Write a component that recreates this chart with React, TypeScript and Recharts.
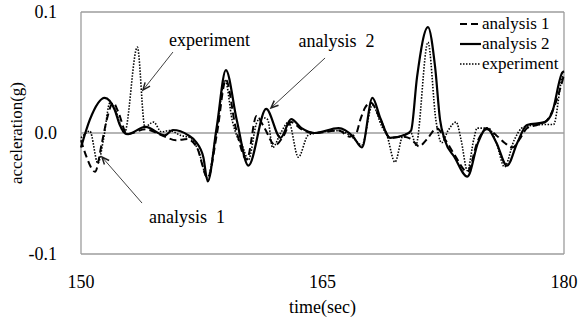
import React from "react";
import {
  LineChart,
  Line,
  XAxis,
  YAxis,
  ReferenceLine,
  ReferenceDot,
  Label,
} from "recharts";

const FONT = "Liberation Serif, Tinos, DejaVu Serif, Noto Serif, Times New Roman, Times, serif";

// analysis 1 (dashed)
const a1Time = [150.0, 150.35, 150.87, 151.3, 151.6, 152.0, 152.3, 152.86, 154.0, 155.2, 155.9, 156.6, 157.2, 157.87, 158.45, 159.0, 159.6, 160.3, 160.9, 161.4, 162.05, 162.6, 163.05, 163.7, 164.5, 166.0, 166.7, 167.1, 167.35, 167.65, 168.0, 168.6, 169.2, 170.0, 170.5, 171.0, 171.5, 172.1, 172.6, 173.2, 174.0, 174.66, 175.2, 175.8, 176.3, 176.8, 177.3, 177.7, 178.4, 178.9, 179.4, 180.0];
const a1Vals = [-0.006, -0.02, -0.032, -0.008, 0.011, 0.025, 0.018, -0.001, 0.003, -0.003, -0.006, -0.005, -0.012, -0.037, 0.0, 0.044, 0.005, -0.022, 0.014, 0.004, -0.01, -0.002, 0.009, 0.003, 0.0, 0.002, -0.003, 0.0, 0.011, 0.021, 0.025, 0.011, -0.004, -0.003, -0.005, -0.011, -0.005, 0.004, -0.005, -0.018, -0.032, -0.006, 0.003, -0.002, -0.008, -0.012, -0.004, 0.004, 0.007, 0.01, 0.022, 0.048];

// analysis 2 (solid)
const a2Time = [150.0, 150.55, 151.47, 152.1, 152.4, 152.86, 154.0, 155.2, 155.7, 156.65, 157.15, 157.6, 157.87, 158.43, 159.0, 159.67, 160.4, 161.5, 162.4, 163.05, 163.7, 164.5, 166.0, 166.9, 167.45, 168.1, 168.6, 169.2, 170.1, 170.5, 170.87, 171.55, 171.99, 172.3, 172.6, 173.2, 174.0, 174.66, 175.2, 175.8, 176.46, 177.1, 177.7, 178.8, 179.25, 179.9, 180.0];
const a2Vals = [-0.012, 0.011, 0.029, 0.019, 0.007, -0.001, 0.005, -0.002, 0.0025, -0.0017, -0.0075, -0.02, -0.04, 0.005, 0.052, 0.011, -0.027, 0.02, -0.004, 0.0115, 0.004, 0.0, 0.004, -0.003, -0.012, 0.029, 0.012, -0.004, -0.0017, 0.002, 0.046, 0.0875, 0.055, 0.011, -0.006, -0.02, -0.036, -0.008, 0.004, -0.008, -0.027, -0.008, 0.0066, 0.009, 0.0165, 0.05, 0.051];

// experiment (dotted)
const exTime = [150.0, 150.55, 151.05, 151.4, 151.8, 152.1, 152.7, 153.5, 153.97, 154.5, 155.0, 155.5, 156.2, 156.8, 157.3, 157.85, 158.4, 158.95, 159.4, 159.7, 160.0, 160.4, 160.9, 161.2, 161.6, 161.9, 162.4, 162.9, 163.5, 164.1, 164.6, 166.0, 166.9, 167.45, 168.1, 168.7, 169.0, 169.5, 170.0, 170.5, 170.8, 171.55, 172.05, 172.4, 172.8, 173.3, 173.6, 174.0, 174.4, 174.6, 175.3, 175.8, 176.3, 176.9, 177.5, 178.8, 179.35, 179.9, 180.0];
const exVals = [-0.004, 0.0015, -0.025, -0.005, 0.025, 0.02, 0.0, 0.071, 0.005, 0.009, 0.001, 0.002, -0.002, -0.004, -0.015, -0.037, 0.0, 0.044, 0.01, -0.003, -0.01, -0.022, 0.008, 0.013, 0.011, -0.012, 0.0, 0.009, -0.02, -0.002, 0.0, 0.002, -0.004, -0.01, 0.023, 0.005, -0.002, -0.024, -0.002, 0.0, -0.01, 0.075, 0.01, -0.008, 0.002, 0.009, -0.005, -0.031, -0.005, 0.004, 0.004, -0.008, -0.028, -0.006, 0.005, 0.007, 0.007, 0.046, 0.048];

const xTicks = [150, 165, 180];
const yTicks = [-0.1, 0.0, 0.1];
const xDomain = [150, 180];
const yDomain = [-0.1, 0.1];

const seriesNames = ["analysis 1", "analysis 2", "experiment"];

// annotations: text positions and arrows (data coordinates)
const annTexts = [
  { t: 157.98, v: 0.0769, text: "experiment" },
  { t: 165.87, v: 0.076, text: "analysis\u00a0 2" },
  { t: 156.58, v: -0.0694, text: "analysis\u00a0 1" },
];
const annArrows = [
  { from: { x: 155.71, y: 0.0669 }, to: { x: 153.85, y: 0.0355 } },
  { from: { x: 165.16, y: 0.062 }, to: { x: 161.8, y: 0.0207 } },
  { from: { x: 153.79, y: -0.0579 }, to: { x: 151.3, y: -0.0198 } },
];

const zip = (ts: number[], vs: number[]) => ts.map((t, i) => ({ t, v: vs[i] }));
const a1Data = zip(a1Time, a1Vals);
const a2Data = zip(a2Time, a2Vals);
const exData = zip(exTime, exVals);

const styles = [
  { dash: "7 4", width: 2 },
  { dash: undefined, width: 2.2 },
  { dash: "1.5 1.5", width: 1.6 },
];

const FRAME = "#9c9c9c";
const txtStyle = { fontFamily: FONT };

const XTick = (p: any) => (
  <text x={p.x} y={p.y + 34} textAnchor="middle" fontSize={18} style={txtStyle} fill="#000">
    {p.payload.value}
  </text>
);

const YTick = (p: any) => (
  <text x={p.x - 24} y={p.y + 6} textAnchor="end" fontSize={18} style={txtStyle} fill="#000">
    {Number(p.payload.value).toFixed(1)}
  </text>
);

const Arrow = (p: any) => {
  const { x1, y1, x2, y2 } = p;
  if ([x1, y1, x2, y2].some((n) => typeof n !== "number" || isNaN(n))) return null;
  const ang = Math.atan2(y2 - y1, x2 - x1);
  const L = 8;
  const w = 0.4;
  const ax = x2 - L * Math.cos(ang - w);
  const ay = y2 - L * Math.sin(ang - w);
  const bx = x2 - L * Math.cos(ang + w);
  const by = y2 - L * Math.sin(ang + w);
  return (
    <g>
      <line x1={x1} y1={y1} x2={x2} y2={y2} stroke="#404040" strokeWidth={1} />
      <path d={`M${ax},${ay} L${x2},${y2} L${bx},${by}`} fill="none" stroke="#202020" strokeWidth={1.5} />
    </g>
  );
};

const makeText = (text: string) => (p: any) => (
  <text x={p.cx} y={p.cy} textAnchor="middle" dominantBaseline="central" fontSize={18} fill="#000" style={{ whiteSpace: "pre", fontFamily: FONT }}>
    {text}
  </text>
);

// plain segment shape used for the plot frame and the zero line
const FrameSeg = (p: any) => {
  const { x1, y1, x2, y2 } = p;
  if ([x1, y1, x2, y2].some((n) => typeof n !== "number" || isNaN(n))) return null;
  return <line x1={x1} y1={y1} x2={x2} y2={y2} stroke={FRAME} strokeWidth={1.3} />;
};

const LegendBox = () => (
  <div style={{ position: "absolute", left: 459, top: 14, fontFamily: FONT, fontSize: 17, color: "#000", lineHeight: "20px" }}>
    {seriesNames.map((n, i) => (
      <div key={n} style={{ display: "flex", alignItems: "center", height: 20, whiteSpace: "nowrap" }}>
        <svg width={23} height={20} style={{ display: "block" }}>
          <line x1={1} y1={10} x2={22} y2={10} stroke="#000" strokeWidth={styles[i].width} strokeDasharray={styles[i].dash} />
        </svg>
        <span>{n}</span>
      </div>
    ))}
  </div>
);

const YLabel = (p: any) => {
  const vb = p.viewBox || { x: 0, y: 12, width: 81, height: 242 };
  const cy = vb.y + vb.height / 2;
  return (
    <text transform={`translate(16,${cy}) rotate(-90)`} textAnchor="middle" dominantBaseline="central" fontSize={17} fill="#000" style={txtStyle}>
      acceleration(g)
    </text>
  );
};

const frameSegs = [
  [{ x: xDomain[0], y: yDomain[1] }, { x: xDomain[1], y: yDomain[1] }],
  [{ x: xDomain[1], y: yDomain[1] }, { x: xDomain[1], y: yDomain[0] }],
  [{ x: xDomain[1], y: yDomain[0] }, { x: xDomain[0], y: yDomain[0] }],
  [{ x: xDomain[0], y: yDomain[0] }, { x: xDomain[0], y: yDomain[1] }],
  [{ x: xDomain[0], y: 0 }, { x: xDomain[1], y: 0 }],
];

export default function App() {
  return (
    <div style={{ position: "relative", width: 580, height: 322, fontFamily: FONT }}>
      <style>{`body{margin:0}`}</style>
      <LineChart width={580} height={322} margin={{ top: 12, right: 16, left: 0, bottom: 0 }}>
        <XAxis
          dataKey="t"
          type="number"
          domain={xDomain}
          ticks={xTicks}
          axisLine={false}
          tickLine={false}
          tickSize={0}
          tickMargin={0}
          height={68}
          tick={XTick}
          allowDuplicatedCategory={false}
        >
          <Label value="time(sec)" position="insideBottom" offset={9} style={{ fontSize: 18, fontFamily: FONT, fill: "#000" }} />
        </XAxis>
        <YAxis
          type="number"
          domain={yDomain}
          ticks={yTicks}
          axisLine={false}
          tickLine={false}
          tickSize={0}
          tickMargin={0}
          width={81}
          tick={YTick}
        >
          <Label content={YLabel} />
        </YAxis>
        {frameSegs.map((s, i) => (
          <ReferenceLine key={"frame" + i} segment={s} shape={FrameSeg} ifOverflow="visible" />
        ))}
        <Line data={exData} dataKey="v" name="experiment" type="monotone" stroke="#000" strokeWidth={styles[2].width} strokeDasharray={styles[2].dash} dot={false} isAnimationActive={false} />
        <Line data={a1Data} dataKey="v" name="analysis 1" type="monotone" stroke="#000" strokeWidth={styles[0].width} strokeDasharray={styles[0].dash} dot={false} isAnimationActive={false} />
        <Line data={a2Data} dataKey="v" name="analysis 2" type="monotone" stroke="#000" strokeWidth={styles[1].width} dot={false} isAnimationActive={false} />
        {annArrows.map((a, i) => (
          <ReferenceLine key={"arr" + i} segment={[a.from, a.to]} shape={Arrow} stroke="#404040" />
        ))}
        {annTexts.map((a, i) => (
          <ReferenceDot key={"txt" + i} x={a.t} y={a.v} r={0} shape={makeText(a.text)} />
        ))}
      </LineChart>
      <LegendBox />
    </div>
  );
}
